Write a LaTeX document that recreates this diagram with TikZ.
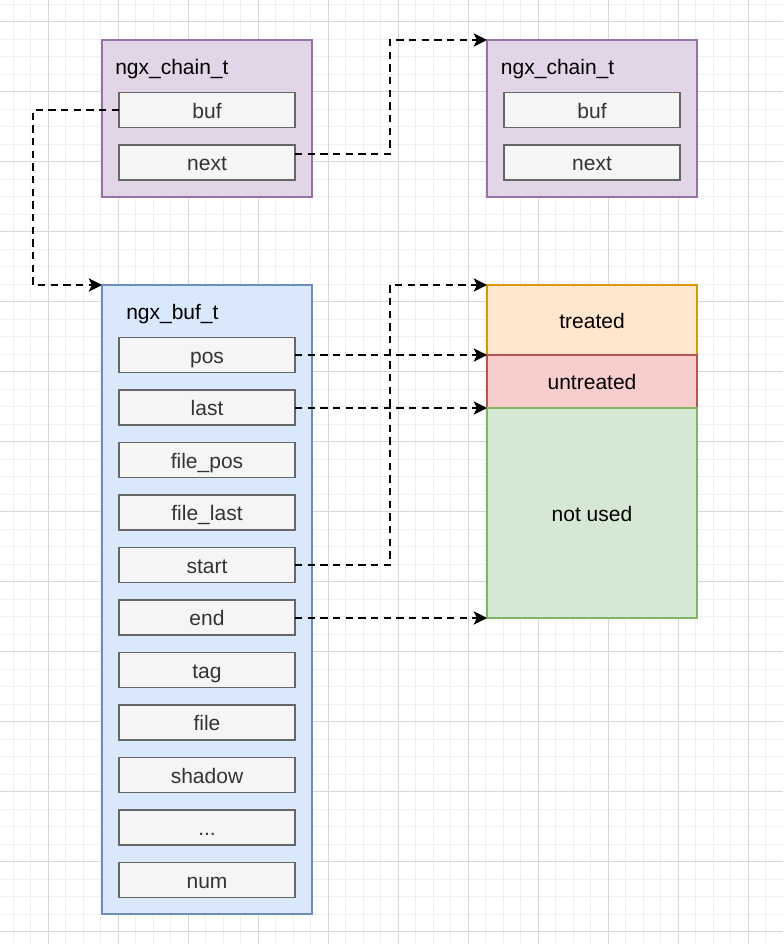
\documentclass[tikz,border=0pt]{standalone}
\usepackage{fontspec}
\setmainfont{Liberation Sans}
\usetikzlibrary{arrows.meta, positioning}
\definecolor{cChainFill}{HTML}{E1D5E7}
\definecolor{cChainLine}{HTML}{9673A6}
\definecolor{cBufFill}{HTML}{DAE8FC}
\definecolor{cBufLine}{HTML}{6C8EBF}
\definecolor{cFieldFill}{HTML}{F5F5F5}
\definecolor{cFieldLine}{HTML}{666666}
\definecolor{cFieldText}{HTML}{333333}
\definecolor{cTreatFill}{HTML}{FFE6CC}
\definecolor{cTreatLine}{HTML}{D79B00}
\definecolor{cUntreatFill}{HTML}{F8CECC}
\definecolor{cUntreatLine}{HTML}{B85450}
\definecolor{cFreeFill}{HTML}{D5E8D4}
\definecolor{cFreeLine}{HTML}{82B366}
\definecolor{cGridMinor}{HTML}{F0F0F0}
\definecolor{cGridMajor}{HTML}{D8D8D8}

\begin{document}
\begin{tikzpicture}[x=0.75pt, y=-0.75pt,
      node distance=13.125pt,
      txt/.style={font=\fontsize{15.75pt}{19pt}\selectfont, text height=15pt, text depth=2.6pt},
      box/.style={draw, line width=1.3pt, anchor=north west, outer sep=0pt,
                  inner sep=0pt, minimum width=157.5pt},
      f/.style={txt, draw=cFieldLine, fill=cFieldFill, line width=1.3pt, outer sep=0pt,
                text=cFieldText, minimum width=132pt, minimum height=26.25pt, inner sep=0pt},
      ttl/.style={txt, anchor=west, inner sep=0pt},
      mem/.style={txt, draw, line width=1.3pt, outer sep=0pt, inner sep=0pt,
                  minimum width=157.5pt},
      ptr/.style={->, line width=1.4pt, dash pattern=on 5.5pt off 4pt},
      >={Stealth[length=10pt, width=10pt, inset=2.5pt]}]
    % background grid
    \useasboundingbox[fill=white] (0,0) rectangle (783,944);
    \foreach \gx in {0,...,43} \draw[cGridMinor, line width=0.6pt] (13.3+17.5*\gx,0) -- (13.3+17.5*\gx,944);
    \foreach \gy in {0,...,53} \draw[cGridMinor, line width=0.6pt] (0,4.2+17.5*\gy) -- (783,4.2+17.5*\gy);
    \foreach \gx in {0,...,10} \draw[cGridMajor, line width=0.75pt] (48.3+70*\gx,0) -- (48.3+70*\gx,944);
    \foreach \gy in {0,...,13} \draw[cGridMajor, line width=0.75pt] (0,21.7+70*\gy) -- (783,21.7+70*\gy);

    % chains
    \node[box, draw=cChainLine, fill=cChainFill, minimum height=117.75pt] (c1) at (102,40) {};
    \node[ttl] at (115,66.7) {ngx\_chain\_t};
    \node[f] (c1buf) at (207,110) {buf};
    \node[f, below=of c1buf] (c1next) {next};

    \node[box, draw=cChainLine, fill=cChainFill, minimum height=117.75pt] (c2) at (487,40) {};
    \node[ttl] at (500.7,66) {ngx\_chain\_t};
    \node[f] (c2buf) at (592,110) {buf};
    \node[f, below=of c2buf] (c2next) {next};

    % ngx_buf_t
    \node[box, draw=cBufLine, fill=cBufFill, minimum height=471.75pt] (buft) at (102,285) {};
    \node[ttl] at (126,311) {ngx\_buf\_t};
    \node[f] (pos) at (207,355) {pos};
    \node[f, below=of pos] (last) {last};
    \node[f, below=of last] (fpos) {file\_pos};
    \node[f, below=of fpos] (flast) {file\_last};
    \node[f, below=of flast] (start) {start};
    \node[f, below=of start] (end) {end};
    \node[f, below=of end] (tag) {tag};
    \node[f, below=of tag] (file) {file};
    \node[f, below=of file] (shadow) {shadow};
    \node[f, below=of shadow] (dots) {...};
    \node[f, below=of dots] (num) {num};

    % memory
    \node[mem, draw=cTreatLine, fill=cTreatFill, minimum height=52.5pt, anchor=north west] (treated) at (487,285) {treated};
    \node[mem, draw=cUntreatLine, fill=cUntreatFill, minimum height=39.75pt, below=0pt of treated] (untreated) {untreated};
    \node[mem, draw=cFreeLine, fill=cFreeFill, minimum height=157.5pt, below=0pt of untreated] (notused) {not used};

    \draw[ptr] (c1buf.west) -- ++(-86,0) |- (buft.north west);
    \draw[ptr] ([yshift=6.375pt]c1next.east) -- ++(95,0) |- (c2.north west);
    \draw[ptr] (start.east) -- ++(95,0) |- (treated.north west);
    \draw[ptr] (pos.east) -- (pos.east -| untreated.west);
    \draw[ptr] (last.east |- notused.north) -- (notused.north west);
    \draw[ptr] (end.east |- notused.south) -- (notused.south west);
  \end{tikzpicture}
\end{document}
